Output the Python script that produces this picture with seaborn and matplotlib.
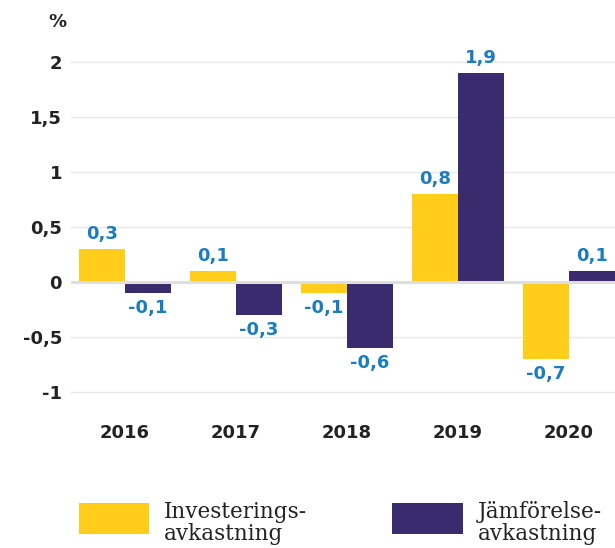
import matplotlib
matplotlib.use("Agg")
import matplotlib.pyplot as plt
import seaborn as sns
import pandas as pd
from matplotlib.patches import Patch, Rectangle
from matplotlib.legend_handler import HandlerPatch

years = ["2016", "2017", "2018", "2019", "2020"]
series_names = ["Investerings-\navkastning", "Jämförelse-\navkastning"]
invest = [0.3, 0.1, -0.1, 0.8, -0.7]
compare = [-0.1, -0.3, -0.6, 1.9, 0.1]
yticks = [-1, -0.5, 0, 0.5, 1, 1.5, 2]
ytick_labels = ["-1", "-0,5", "0", "0,5", "1", "1,5", "2"]
colors = ["#FFCD1A", "#3A2A6E"]

df = pd.DataFrame({
    "year": years * 2,
    "series": [series_names[0]] * 5 + [series_names[1]] * 5,
    "value": invest + compare,
})

sns.set_theme(style="white")
plt.rcParams["font.family"] = ["DejaVu Sans"]

W, H = 615, 548
fig = plt.figure(figsize=(W / 100, H / 100), dpi=100)
ax = fig.add_axes([71 / W, (H - 403) / H, (615 - 71) / W, (403 - 40) / H])

sns.barplot(data=df, x="year", y="value", hue="series", palette=colors,
            width=0.83, gap=0, ax=ax, legend=False, saturation=1, zorder=3,
            linewidth=0, edgecolor="none")

ax.set_xlim(-0.486, 4.414)
ax.set_ylim(-1.1, 2.2)
ax.set_yticks(yticks)
ax.set_yticklabels(ytick_labels)
for y in yticks:
    if y == 0:
        ax.axhline(0, color="#dedede", lw=2.2, zorder=4)
    else:
        ax.axhline(y, color="#e8e8e8", lw=1.0, zorder=1)

for s in ax.spines.values():
    s.set_visible(False)
ax.tick_params(axis="both", length=0, labelsize=13, colors="#222222")
ax.tick_params(axis="y", pad=6.5)
ax.tick_params(axis="x", pad=15)
for lab in ax.get_xticklabels() + ax.get_yticklabels():
    lab.set_fontweight("semibold")
ax.set_xlabel("")
ax.set_ylabel("")

for cont, vals in zip(ax.containers, [invest, compare]):
    labels = [f"{v:.1f}".replace(".", ",") for v in vals]
    ax.bar_label(cont, labels=labels, padding=4.5, color="#1B7CC0",
                 fontsize=13, fontweight="semibold")

fig.text(57 / W, 1 - 22 / H, "%", ha="center", va="center", fontsize=13,
         fontweight="semibold", color="#222222")


def raised_patch(legend, orig_handle, xdescent, ydescent, width, height, fontsize):
    return Rectangle((-xdescent, -ydescent + 2.1), width, 22.3)


handles = [Patch(facecolor=c, edgecolor="none") for c in colors]
leg = fig.legend(handles, series_names, loc="upper left",
                 bbox_to_anchor=(79 / W, 1 - 501 / H), ncol=2, frameon=False,
                 prop={"family": "DejaVu Serif", "size": 15.5},
                 handlelength=3.26, handleheight=1.44, handletextpad=0.7,
                 columnspacing=3.95, borderaxespad=0, borderpad=0, labelspacing=0,
                 handler_map={Patch: HandlerPatch(patch_func=raised_patch)})
for t in leg.get_texts():
    t.set_linespacing(1.0)
    t.set_color("#222222")

fig.savefig("out.png", dpi=100)
